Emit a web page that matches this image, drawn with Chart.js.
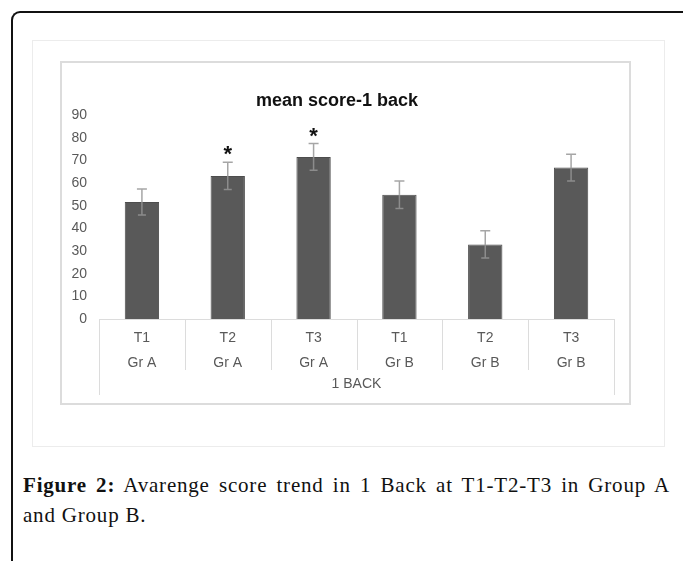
<!DOCTYPE html>
<html>
<head>
<meta charset="utf-8">
<script src="https://cdn.jsdelivr.net/npm/chart.js@4.4.0/dist/chart.umd.min.js"></script>
<style>
  html, body { margin: 0; padding: 0; background: #fff; }
  body { width: 683px; height: 561px; overflow: hidden; position: relative; }
  .frame { position: absolute; left: 11px; top: 11px; width: 720px; height: 600px;
           border-left: 2px solid #111; border-top: 2px solid #111; border-top-left-radius: 9px; }
  .panel { position: absolute; left: 32px; top: 40px; width: 633px; height: 407px;
           border: 1px solid #ececec; box-sizing: border-box; }
  .chartbox { position: absolute; left: 60px; top: 61px; width: 571px; height: 344px;
              border: 2px solid #dcdcdc; box-sizing: border-box; }
  #chart { position: absolute; left: 60px; top: 61px; }
  .caption { position: absolute; left: 23px; top: 470px; width: 647px;
             font-family: "Liberation Serif", serif; font-size: 21px; letter-spacing: 0.8px;
             line-height: 30px; color: #111; }
  .caption .l1 { text-align: justify; text-align-last: justify; }
</style>
</head>
<body>
<div class="frame"></div>
<div class="panel"></div>
<div class="chartbox"></div>
<canvas id="chart" width="571" height="344"></canvas>
<div class="caption">
  <div class="l1"><b>Figure 2:</b> Avarenge score trend in 1 Back at T1-T2-T3 in Group A</div>
  <div>and Group B.</div>
</div>
<script>
// data
const times = ['T1', 'T2', 'T3', 'T1', 'T2', 'T3'];
const groups = ['Gr A', 'Gr A', 'Gr A', 'Gr B', 'Gr B', 'Gr B'];
const axisTitle = '1 BACK';
const meanScores = [51.6, 63.1, 71.5, 54.8, 32.9, 66.8];
const errors = [5.7, 6.0, 5.9, 6.1, 6.0, 5.9];
const marks = ['', '*', '*', '', '', ''];

const labelGray = '#595959';
const sans = '"Liberation Sans", Arial, sans-serif';

// error bars + significance asterisks
const errorBars = {
    id: 'errorBars',
    afterDatasetsDraw(chart) {
        const ctx = chart.ctx;
        const y = chart.scales.y;
        const meta = chart.getDatasetMeta(0);
        meta.data.forEach((bar, i) => {
            const top = y.getPixelForValue(meanScores[i] + errors[i]);
            const bottom = y.getPixelForValue(meanScores[i] - errors[i]);
            const barTop = y.getPixelForValue(meanScores[i]);
            ctx.save();
            ctx.lineWidth = 1.5;
            ctx.strokeStyle = '#a6a6a6';
            ctx.beginPath();
            ctx.moveTo(bar.x, top);
            ctx.lineTo(bar.x, barTop);
            ctx.moveTo(bar.x - 5, top);
            ctx.lineTo(bar.x + 5, top);
            ctx.stroke();
            ctx.strokeStyle = '#8c8c8c';
            ctx.beginPath();
            ctx.moveTo(bar.x, barTop);
            ctx.lineTo(bar.x, bottom);
            ctx.moveTo(bar.x - 4, bottom);
            ctx.lineTo(bar.x + 4, bottom);
            ctx.stroke();
            if (marks[i]) {
                ctx.fillStyle = '#111';
                ctx.font = 'bold 22px ' + sans;
                ctx.textAlign = 'center';
                ctx.textBaseline = 'middle';
                ctx.fillText(marks[i], bar.x, top - 7);
            }
            ctx.restore();
        });
    }
};

// separators of the category table under the axis
const categoryFrame = {
    id: 'categoryFrame',
    afterDraw(chart) {
        const ctx = chart.ctx;
        const x = chart.scales.x;
        const n = times.length;
        ctx.save();
        ctx.strokeStyle = '#dcdcdc';
        ctx.lineWidth = 1;
        for (let i = 0; i <= n; i++) {
            const px = Math.round(x.getPixelForValue(i - 0.5)) + 0.5;
            const len = (i === 0 || i === n) ? 76 : 51;
            ctx.beginPath();
            ctx.moveTo(px, x.top);
            ctx.lineTo(px, x.top + len);
            ctx.stroke();
        }
        ctx.restore();
    }
};

new Chart(document.getElementById('chart'), {
    type: 'bar',
    data: {
        labels: times.map((t, i) => [t, groups[i]]),
        datasets: [{
            data: meanScores,
            backgroundColor: '#595959',
            borderColor: '#4d4d4d',
            borderWidth: 1,
            barPercentage: 0.4,
            categoryPercentage: 1
        }]
    },
    options: {
        responsive: false,
        animation: false,
        layout: { padding: { left: 0, right: 17, top: 0, bottom: 0 } },
        plugins: {
            legend: { display: false },
            tooltip: { enabled: false },
            title: {
                display: true,
                text: 'mean score-1 back',
                color: '#111',
                font: { family: sans, size: 18, weight: 'bold', lineHeight: 1.2 },
                padding: { top: 29, bottom: 3.4 }
            }
        },
        scales: {
            x: {
                grid: { display: false, drawTicks: false },
                border: { display: true, color: '#dcdcdc', width: 1 },
                ticks: {
                    color: labelGray,
                    font: { family: sans, size: 14, lineHeight: 25 / 14 },
                    padding: 7,
                    maxRotation: 0,
                    autoSkip: false
                },
                title: {
                    display: true,
                    text: axisTitle,
                    color: labelGray,
                    font: { family: sans, size: 14 },
                    padding: { top: 0, bottom: 12 }
                },
                afterFit: s => { s.height = 86; }
            },
            y: {
                min: 0,
                max: 90,
                grid: { display: false, drawTicks: false },
                border: { display: false },
                ticks: {
                    stepSize: 10,
                    color: labelGray,
                    font: { family: sans, size: 14 },
                    padding: 12
                },
                afterFit: s => { s.width = 39; }
            }
        }
    },
    plugins: [errorBars, categoryFrame]
});
</script>
</body>
</html>
